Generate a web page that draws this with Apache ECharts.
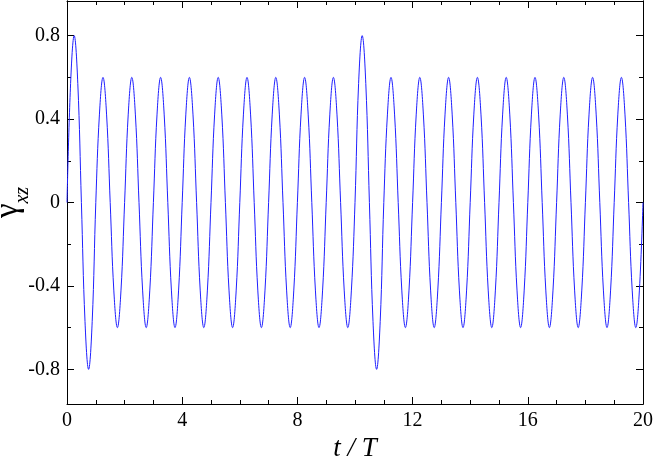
<!DOCTYPE html>
<html lang="en">
<head>
    <meta charset="UTF-8">
    <title>gamma_xz</title>
    <script src="https://cdn.jsdelivr.net/npm/echarts@6/dist/echarts.min.js"></script>
</head>
<body style="margin:0">
    <div id="main" style="width: 654px;height:462px;"></div>
<script type="text/javascript">
    // samples every 1/8 of a period (one row per period)
    var dt = 0.125;
    var gamma = [
        0, 0.57, 0.8, 0.57, 0, -0.57, -0.8, -0.57,
        0, 0.42, 0.6, 0.42, 0, -0.42, -0.6, -0.42,
        0, 0.42, 0.6, 0.42, 0, -0.42, -0.6, -0.42,
        0, 0.42, 0.6, 0.42, 0, -0.42, -0.6, -0.42,
        0, 0.42, 0.6, 0.42, 0, -0.42, -0.6, -0.42,
        0, 0.42, 0.6, 0.42, 0, -0.42, -0.6, -0.42,
        0, 0.42, 0.6, 0.42, 0, -0.42, -0.6, -0.42,
        0, 0.42, 0.6, 0.42, 0, -0.42, -0.6, -0.42,
        0, 0.42, 0.6, 0.42, 0, -0.42, -0.6, -0.42,
        0, 0.42, 0.6, 0.42, 0, -0.42, -0.6, -0.42,
        0, 0.57, 0.8, 0.57, 0, -0.57, -0.8, -0.57,
        0, 0.42, 0.6, 0.42, 0, -0.42, -0.6, -0.42,
        0, 0.42, 0.6, 0.42, 0, -0.42, -0.6, -0.42,
        0, 0.42, 0.6, 0.42, 0, -0.42, -0.6, -0.42,
        0, 0.42, 0.6, 0.42, 0, -0.42, -0.6, -0.42,
        0, 0.42, 0.6, 0.42, 0, -0.42, -0.6, -0.42,
        0, 0.42, 0.6, 0.42, 0, -0.42, -0.6, -0.42,
        0, 0.42, 0.6, 0.42, 0, -0.42, -0.6, -0.42,
        0, 0.42, 0.6, 0.42, 0, -0.42, -0.6, -0.42,
        0, 0.42, 0.6, 0.42, 0, -0.42, -0.6, -0.42,
        0
    ];
    var yMajor = [-0.8, -0.4, 0, 0.4, 0.8];
    var yMinor = [-0.6, -0.2, 0.2, 0.6];
    var yMin = -0.966, yMax = 0.966;

    var pts = [];
    for (var i = 0; i < gamma.length; i++) {
        pts.push([i * dt, gamma[i]]);
    }

    var font = 'Liberation Serif';
    var axisLine = {show: true, onZero: false, lineStyle: {color: '#000', width: 1}};

    function yAx(pos, ticks, len, labels) {
        return {
            type: 'value', position: pos, min: yMin, max: yMax,
            axisLine: axisLine,
            splitLine: {show: false},
            axisTick: {show: true, inside: true, length: len, customValues: ticks,
                lineStyle: {color: '#000', width: 1}},
            axisLabel: labels ? {show: true, customValues: ticks, margin: 7,
                fontFamily: font, fontSize: 20, color: '#000',
                formatter: function (v) { return v === 0 ? '0' : String(v); }} : {show: false}
        };
    }
    function xAx(pos, labels) {
        return {
            type: 'value', position: pos, min: 0, max: 20, interval: 4,
            axisLine: axisLine,
            splitLine: {show: false},
            axisTick: {show: true, inside: true, length: 7, lineStyle: {color: '#000'}},
            minorTick: {show: true, splitNumber: 4, length: 4, lineStyle: {color: '#000'}},
            axisLabel: labels ? {show: true, margin: 7, fontFamily: font, fontSize: 20, color: '#000'} : {show: false}
        };
    }

    var myChart = echarts.init(document.getElementById('main'));
    var x0 = xAx('bottom', true);
    x0.name = 't / T';
    x0.nameLocation = 'middle';
    x0.nameGap = 31;
    x0.nameMoveOverlap = false;
    x0.nameTextStyle = {fontFamily: font, fontStyle: 'italic', fontSize: 27, color: '#000'};
    var y0 = yAx('left', yMajor, 7, true);
    y0.name = '{g|γ}{s|xz}';
    y0.nameLocation = 'middle';
    y0.nameRotate = 90;
    y0.nameGap = 42;
    y0.nameMoveOverlap = false;
    y0.nameTextStyle = {
        rich: {
            g: {fontFamily: font, fontSize: 33, color: '#000', verticalAlign: 'bottom'},
            s: {fontFamily: font, fontStyle: 'italic', fontSize: 20, color: '#000', verticalAlign: 'bottom', padding: [0, 0, -8, 0]}
        }
    };

    myChart.setOption({
        animation: false,
        grid: {left: 67, right: 11, top: 1, bottom: 58, outerBoundsMode: 'none'},
        xAxis: [x0, xAx('top', false)],
        yAxis: [y0, yAx('left', yMinor, 4, false), yAx('right', yMajor, 7, false), yAx('right', yMinor, 4, false)],
        series: [{
            type: 'line',
            data: pts,
            smooth: 0.4,
            showSymbol: false,
            lineStyle: {color: '#1f1fff', width: 1}
        }]
    });
</script>
</body>
</html>
